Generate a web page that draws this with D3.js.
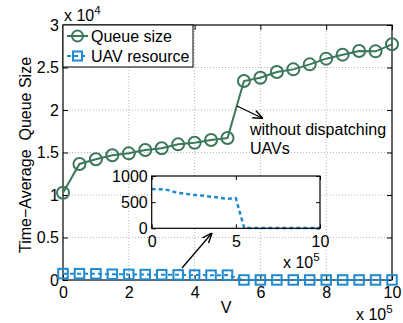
<!DOCTYPE html>
<html>
<head>
<meta charset="utf-8">
<script src="https://cdn.jsdelivr.net/npm/d3@7"></script>
<style>
  html, body { margin: 0; padding: 0; background: #fff; }
  svg { display: block; font-family: "Liberation Sans", Arial, sans-serif; }
</style>
</head>
<body>
<svg id="chart" width="403" height="323"></svg>
<script>
// V values (x 10^5)
const vValues = [0, 0.5, 1, 1.5, 2, 2.5, 3, 3.5, 4, 4.5, 5, 5.5, 6, 6.5, 7, 7.5, 8, 8.5, 9, 9.5, 10];
// Time-average queue size (x 10^4)
const queueSize = [1.027, 1.365, 1.42, 1.467, 1.49, 1.53, 1.55, 1.596, 1.615, 1.647, 1.67,
                   2.341, 2.38, 2.447, 2.478, 2.537, 2.604, 2.651, 2.694, 2.69, 2.773];
// UAV resource (raw units)
const uavResource = [750, 745, 730, 680, 660, 640, 625, 605, 585, 565, 575,
                     5, 5, 5, 5, 5, 5, 5, 5, 5, 5];

const xTicks = [0, 2, 4, 6, 8, 10];
const yTicks = [0, 0.5, 1, 1.5, 2, 2.5, 3];
const insetXTicks = [0, 5, 10];
const insetYTicks = [0, 500, 1000];
const seriesNames = ["Queue size", "UAV resource"];

const green = "#3b7859";
const blue = "#1f8ad0";

const svg = d3.select("#chart");
const M = { left: 63, right: 392, top: 25, bottom: 280 };

const x = d3.scaleLinear().domain([0, 10]).range([M.left, M.right]);
const y = d3.scaleLinear().domain([0, 3]).range([M.bottom, M.top]);

// grid
const grid = svg.append("g").attr("stroke", "#b5b5b5").attr("stroke-width", 1)
  .attr("stroke-dasharray", "1,2");
xTicks.slice(1, -1).forEach(t => grid.append("line")
  .attr("x1", x(t)).attr("x2", x(t)).attr("y1", M.top).attr("y2", M.bottom));
yTicks.slice(1, -1).forEach(t => grid.append("line")
  .attr("x1", M.left).attr("x2", M.right).attr("y1", y(t)).attr("y2", y(t)));

// axes (inward ticks on all four sides)
function boxAxes(g, xs, ys, xt, yt, tl, fontSize, xFmt, yFmt) {
  const [x0, x1] = xs.range(), [y0, y1] = ys.range();
  g.append("g").attr("transform", `translate(0,${y0})`)
    .call(d3.axisBottom(xs).tickValues(xt).tickSize(-tl).tickPadding(7).tickFormat(xFmt))
    .call(a => a.select(".domain").remove());
  g.append("g").attr("transform", `translate(0,${y1})`)
    .call(d3.axisTop(xs).tickValues(xt).tickSize(-tl).tickFormat(""))
    .call(a => a.select(".domain").remove());
  g.append("g").attr("transform", `translate(${x0},0)`)
    .call(d3.axisLeft(ys).tickValues(yt).tickSize(-tl).tickPadding(4).tickFormat(yFmt))
    .call(a => a.select(".domain").remove());
  g.append("g").attr("transform", `translate(${x1},0)`)
    .call(d3.axisRight(ys).tickValues(yt).tickSize(-tl).tickFormat(""))
    .call(a => a.select(".domain").remove());
  g.selectAll(".tick line").attr("stroke", "#000");
  g.selectAll(".tick text").attr("fill", "#000").style("font-size", fontSize + "px")
    .style("font-family", "Liberation Sans, Arial, sans-serif");
  g.append("rect").attr("x", x0).attr("y", y1).attr("width", x1 - x0).attr("height", y0 - y1)
    .attr("fill", "none").attr("stroke", "#000").attr("stroke-width", 1.2);
}

const axesG = svg.append("g");
boxAxes(axesG, x, y, xTicks, yTicks, 5, 16, d3.format("d"), d => d3.format("")(d));

// multiplier labels
function sciLabel(g, xPos, yPos, base, exp, fs) {
  const t = g.append("text").attr("x", xPos).attr("y", yPos)
    .style("font-size", fs + "px").attr("fill", "#000");
  t.append("tspan").text(base);
  t.append("tspan").attr("dy", -fs * 0.45).style("font-size", (fs * 0.72) + "px").text(exp);
}
sciLabel(svg, 64, 21, "x 10", "4", 16);
sciLabel(svg, 356, 320, "x 10", "5", 16);

// axis titles
svg.append("text").attr("x", 226).attr("y", 313).attr("text-anchor", "middle")
  .style("font-size", "16px").text("V");
svg.append("text").attr("transform", "translate(31,155) rotate(-90)")
  .attr("text-anchor", "middle").style("font-size", "16px")
  .attr("xml:space", "preserve").text("Time\u2212Average  Queue Size");

// series
const plot = svg.append("g");
const qLine = d3.line().x((d, i) => x(vValues[i])).y(d => y(d));
plot.append("path").datum(queueSize).attr("d", qLine)
  .attr("fill", "none").attr("stroke", green).attr("stroke-width", 2);
plot.selectAll("circle.q").data(queueSize).join("circle").attr("class", "q")
  .attr("cx", (d, i) => x(vValues[i])).attr("cy", d => y(d)).attr("r", 6)
  .attr("fill", "none").attr("stroke", green).attr("stroke-width", 2);

const yU = d => y(d / 10000);
const uLine = d3.line().x((d, i) => x(vValues[i])).y(d => yU(d));
plot.append("path").datum(uavResource).attr("d", uLine)
  .attr("fill", "none").attr("stroke", blue).attr("stroke-width", 2)
  .attr("stroke-dasharray", "4,3");
const sq = 9.5;
plot.selectAll("rect.u").data(uavResource).join("rect").attr("class", "u")
  .attr("x", (d, i) => x(vValues[i]) - sq / 2).attr("y", d => yU(d) - sq / 2)
  .attr("width", sq).attr("height", sq)
  .attr("fill", "none").attr("stroke", blue).attr("stroke-width", 2);

// legend
const leg = svg.append("g");
leg.append("rect").attr("x", M.left).attr("y", M.top).attr("width", 130).attr("height", 42)
  .attr("fill", "#fff").attr("stroke", "#000").attr("stroke-width", 1);
const legY = [36, 56];
leg.append("line").attr("x1", 67).attr("x2", 88).attr("y1", legY[0]).attr("y2", legY[0])
  .attr("stroke", green).attr("stroke-width", 2);
leg.append("circle").attr("cx", 77.5).attr("cy", legY[0]).attr("r", 5.5)
  .attr("fill", "none").attr("stroke", green).attr("stroke-width", 2);
leg.append("line").attr("x1", 67).attr("x2", 88).attr("y1", legY[1]).attr("y2", legY[1])
  .attr("stroke", blue).attr("stroke-width", 2).attr("stroke-dasharray", "4,3");
leg.append("rect").attr("x", 77.5 - 4.5).attr("y", legY[1] - 4.5).attr("width", 9).attr("height", 9)
  .attr("fill", "none").attr("stroke", blue).attr("stroke-width", 2);
seriesNames.forEach((n, i) => leg.append("text").attr("x", 91).attr("y", legY[i] + 6)
  .style("font-size", "16px").text(n));

// arrows
const defs = svg.append("defs");
defs.append("marker").attr("id", "ah").attr("viewBox", "0 0 10 10").attr("refX", 10).attr("refY", 5)
  .attr("markerWidth", 10).attr("markerHeight", 10).attr("markerUnits", "userSpaceOnUse")
  .attr("orient", "auto").append("path").attr("d", "M0,1 L10,5 L0,9").attr("fill", "none")
  .attr("stroke", "#000").attr("stroke-width", 1.4);
svg.append("line").attr("x1", 237).attr("y1", 106).attr("x2", 263).attr("y2", 118.5)
  .attr("stroke", "#000").attr("stroke-width", 1.3).attr("marker-end", "url(#ah)");
svg.append("line").attr("x1", 182).attr("y1", 268).attr("x2", 212).attr("y2", 233)
  .attr("stroke", "#000").attr("stroke-width", 1.3).attr("marker-end", "url(#ah)");

svg.append("text").attr("x", 250).attr("y", 135).style("font-size", "16px").text("without dispatching");
svg.append("text").attr("x", 250).attr("y", 154).style("font-size", "16px").text("UAVs");

// inset
const xi = d3.scaleLinear().domain([0, 10]).range([151.7, 320]);
const yi = d3.scaleLinear().domain([0, 1000]).range([228.3, 176]);
const inset = svg.append("g");
inset.append("rect").attr("x", 151.7).attr("y", 176).attr("width", 320 - 151.7).attr("height", 228.3 - 176)
  .attr("fill", "#fff");
const iLine = d3.line().x((d, i) => xi(vValues[i])).y(d => yi(d));
inset.append("path").datum(uavResource).attr("d", iLine)
  .attr("fill", "none").attr("stroke", blue).attr("stroke-width", 2.5).attr("stroke-dasharray", "4,3");
boxAxes(inset, xi, yi, insetXTicks, insetYTicks, 4, 16, d3.format("d"), d3.format("d"));
sciLabel(svg, 283, 268, "x 10", "5", 16);
</script>
</body>
</html>
